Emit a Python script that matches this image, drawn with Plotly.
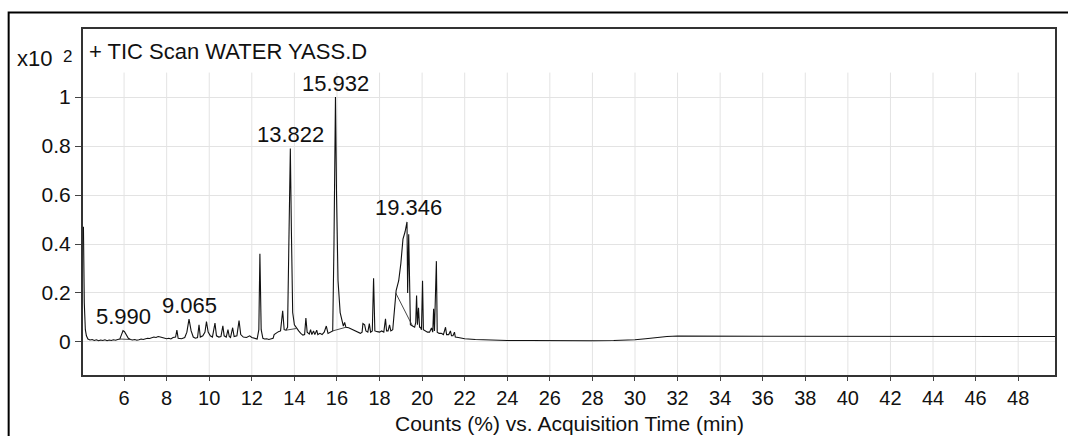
import plotly.graph_objects as go

# ---- data ----
rt_min = [
    4.09, 4.13, 4.18, 4.23, 4.30, 4.40, 4.50, 4.60, 4.70, 4.80, 4.90, 5.00, 5.10, 5.20, 5.30,
    5.40, 5.50, 5.60, 5.70, 5.80, 5.88, 5.95, 6.02, 6.10, 6.20, 6.30, 6.40, 6.50, 6.60, 6.70,
    6.80, 6.90, 7.00, 7.10, 7.20, 7.30, 7.40, 7.50, 7.60, 7.70, 7.80, 7.90, 8.00, 8.10, 8.20,
    8.30, 8.42, 8.48, 8.54, 8.70, 8.85, 8.95, 9.05, 9.15, 9.25, 9.35, 9.45, 9.52, 9.58, 9.70,
    9.80, 9.87, 9.95, 10.05, 10.15, 10.27, 10.34, 10.45, 10.55, 10.64, 10.70, 10.80, 10.88, 10.94, 11.00,
    11.10, 11.17, 11.30, 11.40, 11.48, 11.60, 11.75, 11.90, 12.00, 12.10, 12.25, 12.33, 12.38, 12.44, 12.52,
    12.60, 12.70, 12.80, 12.90, 13.00, 13.05, 13.15, 13.25, 13.35, 13.45, 13.52, 13.60, 13.68, 13.76, 13.81,
    13.86, 13.92, 14.00, 14.10, 14.20, 14.30, 14.40, 14.48, 14.54, 14.60, 14.70, 14.76, 14.82, 14.90, 14.96,
    15.05, 15.10, 15.20, 15.30, 15.40, 15.50, 15.58, 15.70, 15.80, 15.86, 15.93, 15.98, 16.05, 16.15, 16.22,
    16.30, 16.36, 16.42, 16.55, 16.70, 16.85, 17.00, 17.10, 17.18, 17.22, 17.30, 17.36, 17.45, 17.52, 17.58,
    17.66, 17.72, 17.78, 17.90, 18.00, 18.10, 18.20, 18.28, 18.33, 18.40, 18.47, 18.53, 18.62, 18.70, 18.78,
    18.90, 19.00, 19.10, 19.20, 19.29, 19.32, 19.37, 19.45, 19.55, 19.65, 19.70, 19.74, 19.78, 19.83, 19.88,
    19.92, 19.97, 20.02, 20.06, 20.15, 20.25, 20.35, 20.44, 20.50, 20.54, 20.58, 20.67, 20.71, 20.80, 20.90,
    21.00, 21.10, 21.15, 21.25, 21.33, 21.38, 21.45, 21.52, 21.56, 21.70, 21.85, 22.00, 22.50, 23.00, 23.50,
    24.00, 25.00, 26.00, 27.00, 28.00, 29.00, 29.50, 30.00, 30.50, 31.00, 31.50, 32.00, 33.00, 34.00, 36.00,
    38.00, 40.00, 42.00, 44.00, 46.00, 48.00, 49.73,
]
counts_x100 = [
    0.470, 0.160, 0.050, 0.025, 0.012, 0.008, 0.010, 0.006, 0.009, 0.005, 0.008, 0.006, 0.009, 0.005, 0.008,
    0.006, 0.009, 0.007, 0.010, 0.012, 0.030, 0.046, 0.042, 0.030, 0.015, 0.010, 0.008, 0.010, 0.007, 0.009,
    0.012, 0.010, 0.013, 0.015, 0.014, 0.017, 0.020, 0.018, 0.022, 0.020, 0.017, 0.015, 0.013, 0.015, 0.012,
    0.018, 0.020, 0.048, 0.015, 0.013, 0.018, 0.040, 0.093, 0.045, 0.020, 0.015, 0.018, 0.070, 0.020, 0.025,
    0.040, 0.083, 0.040, 0.025, 0.020, 0.077, 0.025, 0.020, 0.022, 0.066, 0.025, 0.020, 0.050, 0.022, 0.018,
    0.058, 0.022, 0.025, 0.087, 0.030, 0.020, 0.018, 0.025, 0.018, 0.015, 0.012, 0.050, 0.360, 0.050, 0.015,
    0.012, 0.013, 0.010, 0.012, 0.015, 0.030, 0.038, 0.042, 0.045, 0.127, 0.050, 0.048, 0.060, 0.500, 0.790,
    0.450, 0.120, 0.070, 0.055, 0.045, 0.035, 0.028, 0.030, 0.098, 0.040, 0.032, 0.050, 0.030, 0.045, 0.030,
    0.048, 0.030, 0.035, 0.030, 0.040, 0.065, 0.035, 0.040, 0.045, 0.400, 1.000, 0.600, 0.250, 0.120, 0.090,
    0.065, 0.080, 0.060, 0.058, 0.052, 0.045, 0.040, 0.035, 0.040, 0.075, 0.070, 0.045, 0.040, 0.075, 0.040,
    0.045, 0.260, 0.045, 0.042, 0.040, 0.045, 0.040, 0.094, 0.045, 0.045, 0.070, 0.045, 0.050, 0.130, 0.210,
    0.250, 0.320, 0.420, 0.450, 0.490, 0.200, 0.440, 0.070, 0.065, 0.060, 0.080, 0.190, 0.070, 0.140, 0.060,
    0.060, 0.050, 0.250, 0.050, 0.045, 0.040, 0.040, 0.057, 0.040, 0.135, 0.045, 0.330, 0.040, 0.035, 0.035,
    0.030, 0.060, 0.030, 0.030, 0.045, 0.025, 0.025, 0.040, 0.020, 0.018, 0.015, 0.013, 0.010, 0.008, 0.007,
    0.006, 0.006, 0.005, 0.005, 0.005, 0.006, 0.007, 0.009, 0.013, 0.018, 0.022, 0.024, 0.024, 0.023, 0.023,
    0.022, 0.022, 0.021, 0.022, 0.021, 0.022, 0.022,
]

# integration baselines (segments separated by None)
base_rt = [5.80, 6.30, None, 15.80, 16.42, None, 18.76, 19.55, None, 13.60, 14.10]
base_counts = [0.012, 0.010, None, 0.045, 0.060, None, 0.200, 0.065, None, 0.048, 0.055]

peak_rt = [5.990, 9.065, 13.822, 15.932, 19.346]
peak_top = [0.048, 0.093, 0.790, 1.000, 0.490]
peak_labels = ["5.990", "9.065", "13.822", "15.932", "19.346"]

x_ticks = [6, 8, 10, 12, 14, 16, 18, 20, 22, 24, 26, 28, 30, 32, 34, 36, 38, 40, 42, 44, 46, 48]
y_ticks = [0, 0.2, 0.4, 0.6, 0.8, 1.0]
y_tick_text = ["0", "0.2", "0.4", "0.6", "0.8", "1"]

X_RANGE = [4.07, 49.73]
Y_RANGE = [-0.135, 1.278]
GRID_TOP = 1.1

FONT = "Liberation Sans, Arial, sans-serif"
INK = "#111111"

fig = go.Figure()
fig.add_trace(go.Scatter(x=rt_min, y=counts_x100, mode="lines",
                         line=dict(color=INK, width=1.1), hoverinfo="skip"))
fig.add_trace(go.Scatter(x=base_rt, y=base_counts, mode="lines",
                         line=dict(color="#333333", width=0.9), hoverinfo="skip",
                         connectgaps=False))

shapes = []
for t in x_ticks:
    shapes.append(dict(type="line", xref="x", yref="y", x0=t, x1=t,
                       y0=Y_RANGE[0], y1=GRID_TOP, layer="below",
                       line=dict(color="#e3e3e3", width=1)))
# outer frame
shapes.append(dict(type="rect", xref="paper", yref="paper",
                   x0=(8.5 - 83) / 974, x1=1.2, y0=-0.5, y1=(375 - 12.5) / 346,
                   line=dict(color="#000000", width=2)))

annotations = []
for t, h, lab in zip(peak_rt, peak_top, peak_labels):
    annotations.append(dict(x=t, y=h, xref="x", yref="y", text=lab, showarrow=False,
                            yanchor="middle", yshift=14,
                            font=dict(family=FONT, size=22, color=INK)))
annotations.append(dict(x=(87 - 83) / 974, y=(375 - 51) / 346, xref="paper", yref="paper",
                        text="+ TIC Scan WATER YASS.D", showarrow=False,
                        xanchor="left", yanchor="middle",
                        font=dict(family=FONT, size=22, color=INK)))
annotations.append(dict(x=(54 - 83) / 974, y=(375 - 58) / 346, xref="paper", yref="paper",
                        text="x10", showarrow=False, xanchor="right", yanchor="middle",
                        font=dict(family=FONT, size=22, color=INK)))
annotations.append(dict(x=(61 - 83) / 974, y=(375 - 56) / 346, xref="paper", yref="paper",
                        text="2", showarrow=False, xanchor="left", yanchor="middle",
                        font=dict(family=FONT, size=17, color=INK)))
annotations.append(dict(x=0.5, y=(375 - 423) / 346, xref="paper", yref="paper",
                        text="Counts (%) vs. Acquisition Time (min)", showarrow=False,
                        xanchor="center", yanchor="middle",
                        font=dict(family=FONT, size=21, color=INK)))

fig.update_layout(
    width=1068, height=436,
    margin=dict(l=83, r=11, t=29, b=61),
    paper_bgcolor="white", plot_bgcolor="white",
    showlegend=False,
    shapes=shapes, annotations=annotations,
    font=dict(family=FONT, size=21, color=INK),
    xaxis=dict(range=X_RANGE, tickvals=x_ticks, ticks="outside", ticklen=4,
               tickcolor="#444444", showgrid=False, zeroline=False,
               showline=True, mirror=True, linecolor="#333333", linewidth=2,
               tickfont=dict(family=FONT, size=20, color=INK)),
    yaxis=dict(range=Y_RANGE, tickvals=y_ticks, ticktext=y_tick_text, ticks="outside",
               ticklen=6, tickcolor="#444444", showgrid=True, gridcolor="#e3e3e3",
               gridwidth=1, zeroline=False,
               showline=True, mirror=True, linecolor="#333333", linewidth=2,
               tickfont=dict(family=FONT, size=21, color=INK)),
)

fig.write_html("out.html",
               config={"displayModeBar": False},
               post_script="document.body.style.margin='0px';document.body.style.overflow='hidden';")
